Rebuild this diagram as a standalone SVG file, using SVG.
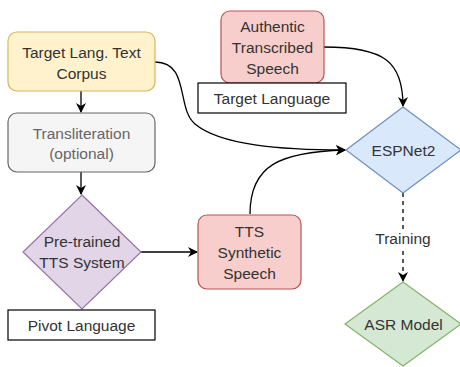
<svg xmlns="http://www.w3.org/2000/svg" width="460" height="367" viewBox="0 0 460 367">
<defs>
<style>
text{font-family:"Liberation Sans",Arial,sans-serif;font-size:15.5px;fill:#333;text-anchor:middle}
.muted{fill:#666}
.edge{fill:none;stroke:#000;stroke-width:1.3}
.dash{stroke-dasharray:4 4}
.lbl{fill:#fff;stroke:#000;stroke-width:1.2}
</style>
<marker id="arr" viewBox="0 0 10 10" refX="9" refY="5" markerWidth="10" markerHeight="10" markerUnits="userSpaceOnUse" orient="auto">
<path d="M0,0 L10,5 L0,10 L3,5 z" fill="#000"/>
</marker>
</defs>
<rect width="460" height="367" fill="#fff"/>
<g id="connectors">
<path class="edge" d="M81,91 L81,112" marker-end="url(#arr)"/>
<path class="edge" d="M81,172 L81,194" marker-end="url(#arr)"/>
<path class="edge" d="M141,252 L197,252" marker-end="url(#arr)"/>
<path class="edge" d="M155,62 C190,62 176,108 195,124 C220,145 280,150 345,150" marker-end="url(#arr)"/>
<path class="edge" d="M250,214 C250,165 280,152 345,150" marker-end="url(#arr)"/>
<path class="edge" d="M324,47 C385,47 403,62 403,106" marker-end="url(#arr)"/>
<path class="edge dash" d="M403,193 L403,229"/>
<path class="edge dash" d="M403,251 L403,281" marker-end="url(#arr)"/>
</g>
<g id="target-text-corpus">
<rect x="8" y="32" width="147" height="59" rx="9" fill="#fff2cc" stroke="#d6b656" stroke-width="1.2"/>
<text x="81.5" y="57.5">Target Lang. Text</text>
<text x="81.5" y="78.5">Corpus</text>
</g>
<g id="transliteration">
<rect x="8" y="113" width="147" height="59" rx="9" fill="#f5f5f5" stroke="#666" stroke-width="1.2"/>
<text class="muted" x="81.5" y="138.5">Transliteration</text>
<text class="muted" x="81.5" y="158.5">(optional)</text>
</g>
<g id="pretrained-tts">
<polygon points="82,195 141,252 82,309 23,252" fill="#e1d5e7" stroke="#9673a6" stroke-width="1.2"/>
<text x="82" y="247">Pre-trained</text>
<text x="82" y="268">TTS System</text>
</g>
<g id="pivot-language">
<rect x="8" y="310" width="147" height="30" class="lbl"/>
<text x="81.5" y="330.5">Pivot Language</text>
</g>
<g id="tts-synthetic-speech">
<rect x="198" y="215" width="103" height="74" rx="9" fill="#f8cecc" stroke="#b85450" stroke-width="1.2"/>
<text x="249.5" y="236.5">TTS</text>
<text x="249.5" y="257.5">Synthetic</text>
<text x="249.5" y="278.5">Speech</text>
</g>
<g id="authentic-speech">
<rect x="221" y="11" width="103" height="72" rx="9" fill="#f8cecc" stroke="#b85450" stroke-width="1.2"/>
<text x="272.5" y="32">Authentic</text>
<text x="272.5" y="53">Transcribed</text>
<text x="272.5" y="74">Speech</text>
</g>
<g id="target-language">
<rect x="198" y="83" width="148" height="30" class="lbl"/>
<text x="272" y="103.5">Target Language</text>
</g>
<g id="espnet2">
<polygon points="403,107 461,150 403,193 346,150" fill="#dae8fc" stroke="#6c8ebf" stroke-width="1.2"/>
<text x="403.5" y="155.5">ESPNet2</text>
</g>
<g id="training-label">
<text x="403" y="243.5">Training</text>
</g>
<g id="asr-model">
<polygon points="403,282 461,324 403,366 345,324" fill="#d5e8d4" stroke="#82b366" stroke-width="1.2"/>
<text x="403.5" y="329.5">ASR Model</text>
</g>
</svg>
